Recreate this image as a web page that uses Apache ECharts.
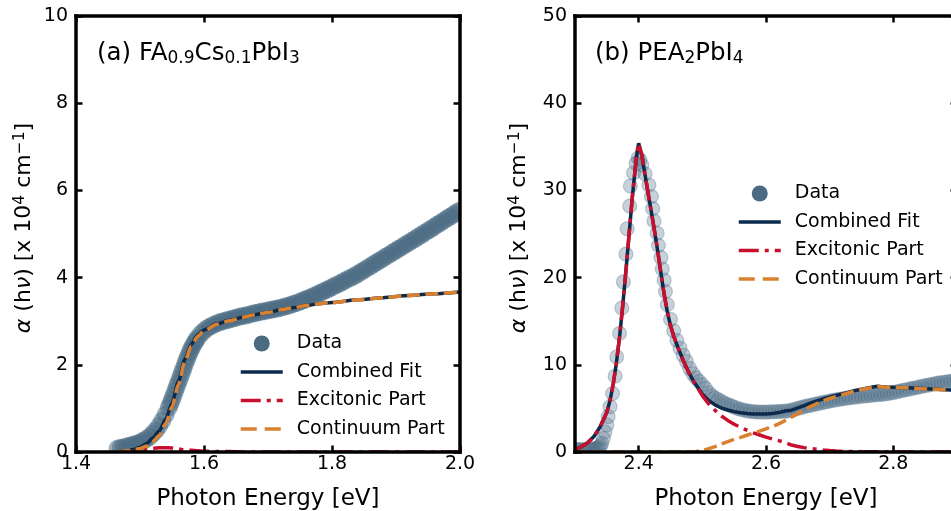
<!DOCTYPE html>
<html>
<head>
<meta charset="utf-8">
<script src="https://cdn.jsdelivr.net/npm/echarts@6/dist/echarts.min.js"></script>
<style>
  html, body { margin: 0; padding: 0; background: #fff; }
  #chart { width: 951px; height: 511px; }
</style>
</head>
<body>
<div id="chart"></div>
<script>
// ---------- Panel (a): FA0.9Cs0.1PbI3 ----------
const xTicksA = [1.4, 1.6, 1.8, 2.0];

// measured absorption, [photon energy eV, alpha x1e4 cm^-1]
const dataPointsA = [
  [1.465,0.08],[1.470,0.10],[1.475,0.11],[1.480,0.13],[1.485,0.15],[1.490,0.17],[1.495,0.19],
  [1.500,0.22],[1.505,0.26],[1.510,0.30],[1.515,0.35],[1.520,0.42],[1.525,0.50],[1.530,0.60],
  [1.535,0.72],[1.540,0.86],[1.545,1.02],[1.5475,1.11],[1.550,1.20],[1.5525,1.30],[1.555,1.40],
  [1.5575,1.50],[1.560,1.60],[1.5625,1.70],[1.565,1.80],[1.5675,1.90],[1.570,2.00],[1.5725,2.10],
  [1.575,2.19],[1.5775,2.28],[1.580,2.36],[1.5825,2.43],[1.585,2.50],[1.5875,2.56],[1.590,2.62],
  [1.595,2.71],[1.600,2.78],[1.605,2.84],[1.610,2.88],[1.615,2.92],[1.620,2.95],[1.625,2.98],
  [1.630,3.00],[1.635,3.02],[1.640,3.04],[1.645,3.06],[1.650,3.08],[1.655,3.10],[1.660,3.12],
  [1.665,3.13],[1.670,3.15],[1.675,3.17],[1.680,3.19],[1.685,3.20],[1.690,3.22],[1.695,3.23],
  [1.700,3.25],[1.705,3.26],[1.710,3.28],[1.715,3.29],[1.720,3.31],[1.725,3.33],[1.730,3.35],
  [1.735,3.37],[1.740,3.40],[1.745,3.42],[1.750,3.45],[1.755,3.48],[1.760,3.51],[1.765,3.54],
  [1.770,3.57],[1.775,3.60],[1.780,3.64],[1.785,3.67],[1.790,3.71],[1.795,3.74],[1.800,3.78],
  [1.805,3.82],[1.810,3.85],[1.815,3.89],[1.820,3.93],[1.825,3.97],[1.830,4.00],[1.835,4.04],
  [1.840,4.08],[1.845,4.13],[1.850,4.17],[1.855,4.22],[1.860,4.26],[1.865,4.31],[1.870,4.35],
  [1.875,4.40],[1.880,4.44],[1.885,4.49],[1.890,4.53],[1.895,4.58],[1.900,4.62],[1.905,4.67],
  [1.910,4.71],[1.915,4.76],[1.920,4.80],[1.925,4.85],[1.930,4.89],[1.935,4.94],[1.940,4.98],
  [1.945,5.03],[1.950,5.08],[1.955,5.12],[1.960,5.17],[1.965,5.22],[1.970,5.26],[1.975,5.31],
  [1.980,5.36],[1.985,5.40],[1.990,5.45],[1.995,5.50],[2.000,5.54]
];

const fitEnergyA = [
  1.465,1.480,1.490,1.500,1.510,1.520,1.530,1.540,1.550,1.560,
  1.570,1.580,1.590,1.600,1.620,1.640,1.660,1.680,1.700,1.720,
  1.740,1.760,1.780,1.800,1.840,1.880,1.920,1.960,2.000
];
const fitCombinedA = [
  0.00,0.03,0.06,0.11,0.19,0.32,0.48,0.75,1.12,1.62,
  2.12,2.47,2.68,2.80,2.94,3.02,3.09,3.15,3.20,3.26,
  3.31,3.36,3.40,3.43,3.49,3.54,3.59,3.63,3.67
];
const fitExcitonA = [
  0.00,0.00,0.01,0.03,0.06,0.08,0.10,0.10,0.09,0.07,
  0.05,0.04,0.03,0.02,0.01,0.01,0.00,0.00,0.00,0.00,
  0.00,0.00,0.00,0.00,0.00,0.00,0.00,0.00,0.00
];
const fitContinuumA = [
  0.00,0.03,0.05,0.08,0.13,0.24,0.38,0.65,1.03,1.55,
  2.07,2.43,2.65,2.78,2.93,3.01,3.09,3.15,3.20,3.26,
  3.31,3.36,3.40,3.43,3.49,3.54,3.59,3.63,3.67
];

// ---------- Panel (b): PEA2PbI4 ----------
const xTicksB = [2.4, 2.6, 2.8];

const dataPointsB = [
  [2.300,0.30],[2.304,0.28],[2.308,0.27],[2.312,0.27],[2.316,0.28],[2.320,0.28],[2.324,0.30],
  [2.328,0.32],[2.331,0.36],[2.334,0.42],[2.337,0.52],[2.340,0.72],[2.342,1.00],[2.3445,1.57],
  [2.347,2.30],[2.350,3.10],[2.352,4.05],[2.355,5.20],[2.359,6.70],[2.363,8.70],[2.3655,10.9],
  [2.370,13.6],[2.3735,16.5],[2.376,19.5],[2.380,22.7],[2.382,25.6],[2.386,28.2],[2.387,30.5],
  [2.392,32.0],[2.396,33.1],[2.399,33.7],[2.402,33.5],[2.405,32.9],[2.410,31.9],[2.416,30.6],
  [2.420,29.3],[2.422,27.9],[2.424,26.5],[2.429,25.1],[2.431,23.7],[2.435,22.3],[2.437,21.0],
  [2.440,19.7],[2.442,18.4],[2.445,16.9],
  [2.450,15.2],[2.455,13.9],[2.460,12.8],[2.465,11.9],[2.470,11.1],[2.475,10.4],[2.480,9.6],
  [2.485,9.0],[2.490,8.5],[2.495,8.1],[2.500,7.7],[2.505,7.3],[2.510,6.8],[2.515,6.45],
  [2.520,6.2],[2.525,6.0],[2.530,5.8],[2.535,5.6],[2.540,5.45],[2.545,5.3],[2.550,5.15],
  [2.555,5.0],[2.560,4.9],[2.565,4.8],[2.570,4.72],[2.575,4.66],[2.580,4.62],[2.585,4.6],
  [2.590,4.58],[2.595,4.58],[2.600,4.58],[2.605,4.6],[2.610,4.6],[2.615,4.62],[2.620,4.64],
  [2.625,4.66],[2.630,4.68],[2.635,4.72],[2.640,4.8],[2.645,4.9],[2.650,5.0],[2.655,5.1],
  [2.660,5.2],[2.665,5.28],[2.670,5.35],[2.675,5.45],[2.680,5.52],[2.685,5.6],[2.690,5.68],
  [2.695,5.76],[2.700,5.84],[2.705,5.92],[2.710,5.98],[2.715,6.04],[2.720,6.1],[2.725,6.15],
  [2.730,6.2],[2.735,6.26],[2.740,6.3],[2.745,6.35],[2.750,6.38],[2.755,6.42],[2.760,6.46],
  [2.765,6.5],[2.770,6.54],[2.775,6.57],[2.780,6.6],[2.785,6.64],[2.790,6.68],[2.795,6.75],
  [2.800,6.82],[2.805,6.9],[2.810,6.98],[2.815,7.06],[2.820,7.14],[2.825,7.22],[2.830,7.3],
  [2.835,7.37],[2.840,7.45],[2.845,7.53],[2.850,7.61],[2.855,7.68],[2.860,7.75],[2.865,7.82],
  [2.870,7.9],[2.875,7.95],[2.880,8.0],[2.885,8.05],[2.890,8.1],[2.895,8.14],[2.900,8.18]
];

const fitEnergyB = [
  2.300,2.310,2.320,2.330,2.340,2.350,2.355,2.360,2.365,2.370,
  2.375,2.380,2.385,2.390,2.395,2.398,2.400,2.402,2.405,2.410,
  2.415,2.420,2.425,2.430,2.435,2.440,2.445,2.450,2.455,2.460,
  2.465,2.470,2.475,2.480,2.486,2.490,2.500,2.510,2.520,2.530,
  2.540,2.550,2.560,2.570,2.580,2.590,2.600,2.610,2.620,2.630,
  2.640,2.650,2.660,2.670,2.680,2.690,2.700,2.710,2.720,2.730,
  2.740,2.750,2.760,2.770,2.775,2.780,2.790,2.800,2.820,2.840,
  2.860,2.880,2.900
];
const fitCombinedB = [
  0.30,0.60,1.05,1.80,2.95,4.55,5.90,7.80,10.2,13.2,
  16.8,20.8,25.0,29.2,32.8,34.6,35.4,35.2,34.0,31.8,
  29.6,27.5,25.3,23.0,20.5,18.1,16.1,14.5,13.3,12.3,
  11.4,10.5,9.70,8.95,8.15,7.70,6.65,5.90,5.40,5.05,
  4.82,4.63,4.50,4.42,4.37,4.35,4.36,4.42,4.52,4.70,
  4.80,5.05,5.32,5.60,5.86,6.10,6.30,6.48,6.66,6.86,
  7.05,7.20,7.35,7.48,7.53,7.50,7.45,7.42,7.38,7.30,
  7.22,7.15,7.10
];
const fitExcitonB = [
  0.30,0.60,1.05,1.80,2.95,4.55,5.90,7.80,10.2,13.2,
  16.8,20.8,25.0,29.2,32.8,34.6,35.4,35.2,34.0,31.8,
  29.6,27.5,25.3,23.0,20.5,18.1,16.1,14.5,13.3,12.3,
  11.4,10.5,9.70,8.95,8.15,7.65,6.47,5.52,4.78,4.13,
  3.62,3.18,2.83,2.50,2.20,1.95,1.70,1.50,1.30,1.10,
  0.80,0.63,0.50,0.39,0.30,0.22,0.16,0.12,0.09,0.07,
  0.05,0.04,0.03,0.03,0.03,0.02,0.02,0.02,0.01,0.01,
  0.01,0.01,0.01
];
const fitContinuumB = [
  0,0,0,0,0,0,0,0,0,0,
  0,0,0,0,0,0,0,0,0,0,
  0,0,0,0,0,0,0,0,0,0,
  0,0,0,0,0,0.05,0.18,0.38,0.62,0.92,
  1.20,1.45,1.67,1.92,2.17,2.40,2.66,2.92,3.22,3.60,
  4.00,4.42,4.82,5.21,5.56,5.88,6.14,6.36,6.57,6.79,
  7.00,7.16,7.32,7.45,7.50,7.48,7.43,7.40,7.37,7.29,
  7.21,7.14,7.09
];

// ---------- styling ----------
const FONT = 'DejaVu Sans';
const C_DATA = '#4b6b83';
const C_FIT = '#0b2a4c';
const C_EXC = '#c8102e';
const C_CONT = '#d9812f';
const SPINE = 3.5;
const LW = 3.5;
const DASH_EXC = [20, 6, 4, 6];
const DASH_CONT = [13, 5.5];

const pairs = (xs, ys) => xs.map((x, i) => [x, ys[i]]);

function xAxisPair(grid, min, max, ticks) {
  const base = {
    type: 'value', gridIndex: grid, min: min, max: max, z: 10,
    splitLine: { show: false },
    axisLine: { show: true, onZero: false, lineStyle: { color: '#000', width: SPINE, cap: 'square' } },
    axisTick: { show: true, inside: true, length: 6.5, customValues: ticks,
                lineStyle: { color: '#000', width: 2.5 } }
  };
  return [
    Object.assign({}, base, {
      position: 'bottom',
      axisLabel: { show: true, customValues: ticks, margin: 3, fontSize: 19, color: '#000',
                   fontFamily: FONT, formatter: v => v.toFixed(1) },
      name: 'Photon Energy [eV]', nameLocation: 'middle', nameGap: 36,
      nameTextStyle: { fontSize: 23, fontFamily: FONT, color: '#000' }
    }),
    Object.assign({}, base, { position: 'top', axisLabel: { show: false } })
  ];
}

const yName = '{i|α} (h{i|ν}) [x 10{sup|4} cm{sup|−1}]';
function yAxisPair(grid, max, step, gap) {
  const base = {
    type: 'value', gridIndex: grid, min: 0, max: max, interval: step, z: 10,
    splitLine: { show: false },
    axisLine: { show: true, onZero: false, lineStyle: { color: '#000', width: SPINE, cap: 'square' } },
    axisTick: { show: true, inside: true, length: 6.5, lineStyle: { color: '#000', width: 2.5 } }
  };
  return [
    Object.assign({}, base, {
      position: 'left',
      axisLabel: { show: true, margin: 8, fontSize: 19, color: '#000', fontFamily: FONT },
      name: yName, nameLocation: 'middle', nameGap: gap,
      nameTextStyle: {
        fontSize: 22, fontFamily: FONT, color: '#000', lineHeight: 25, padding: [0, 0, 0, 12],
        rich: {
          i: { fontSize: 22, fontFamily: FONT, fontStyle: 'italic', lineHeight: 25 },
          sup: { fontSize: 15.5, fontFamily: FONT, lineHeight: 15, verticalAlign: 'top' }
        }
      }
    }),
    Object.assign({}, base, { position: 'right', axisLabel: { show: false } })
  ];
}

// legend line samples carry no marker, only the stroke
const noMarker = { opacity: 0, borderWidth: 0 };
function legendAt(left, top) {
  return {
    orient: 'vertical', left: left, top: top, padding: 0,
    itemWidth: 42, itemHeight: 16, itemGap: 9.5, selectedMode: false,
    textStyle: { fontSize: 19, fontFamily: FONT, color: '#000', padding: [0, 0, 0, 9] },
    data: [
      { name: 'Data', icon: 'circle', itemStyle: { color: C_DATA, opacity: 1, borderWidth: 0 } },
      { name: 'Combined Fit', itemStyle: noMarker,
        lineStyle: { color: C_FIT, width: LW, type: 'solid' } },
      { name: 'Excitonic Part', itemStyle: noMarker,
        lineStyle: { color: C_EXC, width: LW, type: DASH_EXC } },
      { name: 'Continuum Part', itemStyle: noMarker,
        lineStyle: { color: C_CONT, width: LW, type: [16, 8] } }
    ]
  };
}

function titleAt(left, text) {
  return {
    text: text, left: left, top: 40, padding: 0,
    textStyle: {
      fontSize: 24.5, fontWeight: 'normal', fontFamily: FONT, color: '#000', lineHeight: 27,
      rich: { sub: { fontSize: 17, fontFamily: FONT, lineHeight: 17, verticalAlign: 'bottom' } }
    }
  };
}

function panelSeries(ax, dataPts, dataStyle, energy, comb, exc, cont, smooth) {
  const lineBase = { type: 'line', xAxisIndex: ax, yAxisIndex: ax, showSymbol: false, symbol: 'none',
                     smooth: smooth, smoothMonotone: 'x', animation: false };
  return [
    Object.assign({ type: 'scatter', name: 'Data', xAxisIndex: ax, yAxisIndex: ax, data: dataPts,
                    animation: false }, dataStyle),
    Object.assign({}, lineBase, { name: 'Combined Fit', data: pairs(energy, comb),
      lineStyle: { color: C_FIT, width: LW }, itemStyle: { color: C_FIT } }),
    Object.assign({}, lineBase, { name: 'Excitonic Part', data: pairs(energy, exc),
      lineStyle: { color: C_EXC, width: LW, type: DASH_EXC }, itemStyle: { color: C_EXC } }),
    Object.assign({}, lineBase, { name: 'Continuum Part', data: pairs(energy, cont),
      lineStyle: { color: C_CONT, width: LW, type: DASH_CONT }, itemStyle: { color: C_CONT } })
  ];
}

const xa = xAxisPair(0, 1.4, 2.0, xTicksA);
const xb = xAxisPair(1, 2.3, 2.9, xTicksB);
const ya = yAxisPair(0, 10, 2, 39);
const yb = yAxisPair(1, 50, 10, 43);

const option = {
  animation: false,
  backgroundColor: '#fff',
  grid: [
    { left: 76, top: 16, width: 384, height: 436, containLabel: false, outerBoundsMode: 'none' },
    { left: 575, top: 16, width: 382, height: 436, containLabel: false, outerBoundsMode: 'none' }
  ],
  xAxis: [xa[0], xa[1], xb[0], xb[1]],
  yAxis: [ya[0], ya[1], yb[0], yb[1]],
  title: [
    titleAt(97, '(a) FA{sub|0.9}Cs{sub|0.1}PbI{sub|3}'),
    titleAt(595, '(b) PEA{sub|2}PbI{sub|4}')
  ],
  legend: [legendAt(239, 334), legendAt(737, 184)],
  // white masks keep the round markers inside the frames
  graphic: [
    { type: 'rect', z: 8, silent: true, shape: { x: 460, y: 0, width: 115, height: 511 }, style: { fill: '#fff' } },
    { type: 'rect', z: 8, silent: true, shape: { x: 0, y: 452, width: 951, height: 59 }, style: { fill: '#fff' } }
  ],
  series: [].concat(
    panelSeries(0, dataPointsA,
      { symbol: 'circle', symbolSize: 18, itemStyle: { color: C_DATA, opacity: 0.55 } },
      fitEnergyA, fitCombinedA, fitExcitonA, fitContinuumA, 0.25),
    panelSeries(2, dataPointsB,
      { symbol: 'circle', symbolSize: 14,
        itemStyle: { color: C_DATA, opacity: 0.31, borderColor: C_DATA, borderWidth: 1.2 } },
      fitEnergyB, fitCombinedB, fitExcitonB, fitContinuumB, false)
  )
};

const chart = echarts.init(document.getElementById('chart'), null, { renderer: 'canvas' });
chart.setOption(option);
</script>
</body>
</html>
